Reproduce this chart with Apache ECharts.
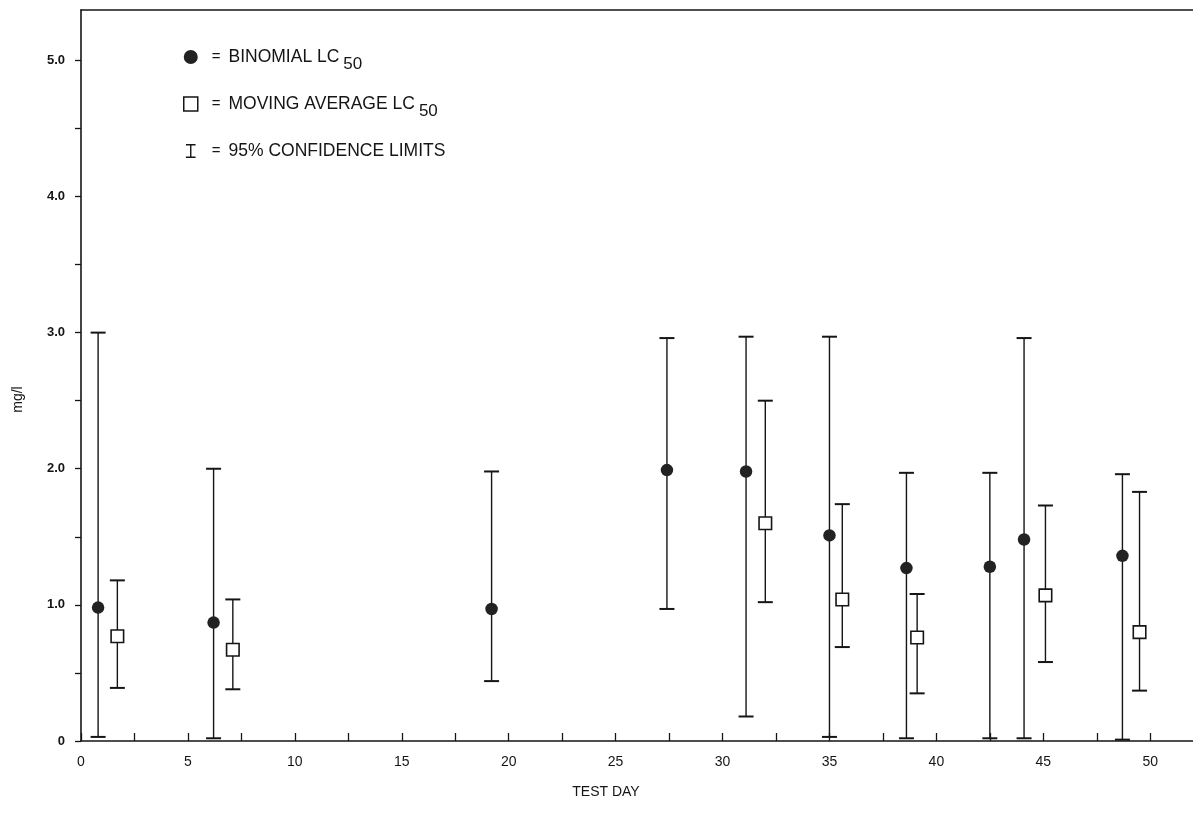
<!DOCTYPE html>
<html><head><meta charset="utf-8">
<script src="https://cdn.jsdelivr.net/npm/echarts@6/dist/echarts.min.js"></script>
<style>html,body{margin:0;padding:0;background:#fff}#c{width:1193px;height:830px}</style>
</head><body><div id="c"></div>
<script>
// ---- data ----
const binomialDay  = [0.8, 6.2, 19.2, 27.4, 31.1, 35.0, 38.6, 42.5, 44.1, 48.7];
const binomialLC50 = [0.98, 0.87, 0.97, 1.99, 1.98, 1.51, 1.27, 1.28, 1.48, 1.36];
const binomialLow  = [0.03, 0.02, 0.44, 0.97, 0.18, 0.03, 0.02, 0.02, 0.02, 0.01];
const binomialHigh = [3.00, 2.00, 1.98, 2.96, 2.97, 2.97, 1.97, 1.97, 2.96, 1.96];

const movingDay  = [1.7, 7.1, 32.0, 35.6, 39.1, 45.1, 49.5];
const movingLC50 = [0.77, 0.67, 1.60, 1.04, 0.76, 1.07, 0.80];
const movingLow  = [0.39, 0.38, 1.02, 0.69, 0.35, 0.58, 0.37];
const movingHigh = [1.18, 1.04, 2.50, 1.74, 1.08, 1.73, 1.83];

const xTickValues = [0, 5, 10, 15, 20, 25, 30, 35, 40, 45, 50];
const xTickLabels = ['0', '5', '10', '15', '20', '25', '30', '35', '40', '45', '50'];
const xMinorStep = 2.5;
const yTickValues = [0, 1, 2, 3, 4, 5];
const yTickLabels = ['0', '1.0', '2.0', '3.0', '4.0', '5.0'];
const yMinorStep = 0.5;

const seriesNames = ['BINOMIAL LC50', 'MOVING AVERAGE LC50', '95% CONFIDENCE LIMITS'];

// ---- build ----
const FONT = '"Liberation Sans", Arial, sans-serif';
const INK = '#151515';

const binomialData = binomialDay.map((d, i) => [d, binomialLC50[i]]);
const movingData = movingDay.map((d, i) => [d, movingLC50[i]]);
const errorData = binomialDay.map((d, i) => [d, binomialLow[i], binomialHigh[i]])
  .concat(movingDay.map((d, i) => [d, movingLow[i], movingHigh[i]]));

function ticksBetween(lo, hi, step) {
  const out = [];
  const n = Math.round((hi - lo) / step);
  for (let i = 0; i <= n; i++) out.push(lo + i * step);
  return out;
}
const xTickAll = ticksBetween(xTickValues[0], xTickValues[xTickValues.length - 1], xMinorStep);
const yTickAll = ticksBetween(yTickValues[0], yTickValues[yTickValues.length - 1], yMinorStep);

function labelFor(values, labels) {
  return function (v) {
    for (let i = 0; i < values.length; i++) {
      if (Math.abs(values[i] - v) < 1e-6) return labels[i];
    }
    return '';
  };
}

function renderErr(params, api) {
  const x = api.value(0), lo = api.value(1), hi = api.value(2);
  const pLo = api.coord([x, lo]);
  const pHi = api.coord([x, hi]);
  const w = 7.5;
  const st = { stroke: INK, lineWidth: 1.4, fill: null };
  const cap = { stroke: INK, lineWidth: 2, fill: null };
  return {
    type: 'group',
    children: [
      { type: 'line', shape: { x1: pLo[0], y1: pLo[1], x2: pHi[0], y2: pHi[1] }, style: st },
      { type: 'line', shape: { x1: pHi[0] - w, y1: pHi[1], x2: pHi[0] + w, y2: pHi[1] }, style: cap },
      { type: 'line', shape: { x1: pLo[0] - w, y1: pLo[1], x2: pLo[0] + w, y2: pLo[1] }, style: cap }
    ]
  };
}

const chart = echarts.init(document.getElementById('c'), null, { renderer: 'canvas' });
chart.setOption({
  animation: false,
  backgroundColor: '#ffffff',
  grid: { left: 81, right: 0, top: 10, bottom: 89, containLabel: false },
  legend: {
    orient: 'vertical',
    left: 178,
    top: 42,
    itemWidth: 14,
    itemHeight: 14,
    itemGap: 21,
    selectedMode: false,
    data: [
      { name: seriesNames[0], icon: 'circle', itemStyle: { color: '#222' } },
      { name: seriesNames[1], icon: 'rect', itemStyle: { color: '#fff', borderColor: INK, borderWidth: 1.5 } },
      { name: seriesNames[2], icon: 'path://M0,0H11V1.6H0Z M4.7,0H6.3V16H4.7Z M0,14.4H11V16H0Z', itemStyle: { color: INK } }
    ],
    formatter: function (name) {
      return '{eq|=}' + name.replace('LC50', 'LC{sub|50}');
    },
    textStyle: {
      fontFamily: FONT,
      fontSize: 17.5,
      color: INK,
      lineHeight: 20,
      rich: {
        eq: { fontFamily: FONT, fontSize: 15, color: INK, padding: [0, 8, 0, 9] },
        sub: { fontFamily: FONT, fontSize: 17, color: INK, verticalAlign: 'top', padding: [9, 0, 0, 4] }
      }
    }
  },
  xAxis: [
    {
      type: 'value',
      min: 0,
      max: 52,
      position: 'bottom',
      axisLine: { show: true, onZero: false, lineStyle: { color: INK, width: 1.6 } },
      axisTick: { show: true, inside: true, length: 8, customValues: xTickAll, lineStyle: { color: INK, width: 1.3 } },
      axisLabel: {
        show: true, margin: 14, fontFamily: FONT, fontSize: 14, color: INK,
        customValues: xTickValues,
        formatter: labelFor(xTickValues, xTickLabels)
      },
      splitLine: { show: false },
      name: 'TEST DAY',
      nameLocation: 'middle',
      nameGap: 44,
      nameTextStyle: { fontFamily: FONT, fontSize: 14, color: INK, padding: [0, 62, 0, 0] }
    },
    {
      type: 'value',
      min: 0,
      max: 52,
      position: 'top',
      axisLine: { show: true, onZero: false, lineStyle: { color: INK, width: 1.6 } },
      axisTick: { show: false },
      axisLabel: { show: false },
      splitLine: { show: false }
    }
  ],
  yAxis: {
    type: 'value',
    min: 0,
    max: 5.37,
    axisLine: { show: true, onZero: false, lineStyle: { color: INK, width: 1.6 } },
    axisTick: { show: true, inside: false, length: 6, customValues: yTickAll, lineStyle: { color: INK, width: 1.3 } },
    axisLabel: {
      show: true, margin: 16, fontFamily: FONT, fontSize: 13, fontWeight: 'bold', color: INK,
      customValues: yTickValues,
      formatter: labelFor(yTickValues, yTickLabels)
    },
    splitLine: { show: false },
    name: 'mg/l',
    nameLocation: 'middle',
    nameGap: 56,
    nameRotate: 90,
    nameTextStyle: { fontFamily: FONT, fontSize: 14, color: INK, padding: [0, 48, 0, 0] }
  },
  series: [
    {
      name: seriesNames[2],
      type: 'custom',
      xAxisIndex: 0,
      yAxisIndex: 0,
      renderItem: renderErr,
      encode: { x: 0, y: [1, 2] },
      data: errorData,
      z: 2,
      silent: true
    },
    {
      name: seriesNames[0],
      type: 'scatter',
      symbol: 'circle',
      symbolSize: 12.5,
      itemStyle: { color: '#222', opacity: 1 },
      data: binomialData,
      z: 3,
      silent: true
    },
    {
      name: seriesNames[1],
      type: 'scatter',
      symbol: 'rect',
      symbolSize: 12.5,
      itemStyle: { color: '#fff', borderColor: INK, borderWidth: 1.6, opacity: 1 },
      data: movingData,
      z: 3,
      silent: true
    }
  ]
});
</script>
</body></html>
